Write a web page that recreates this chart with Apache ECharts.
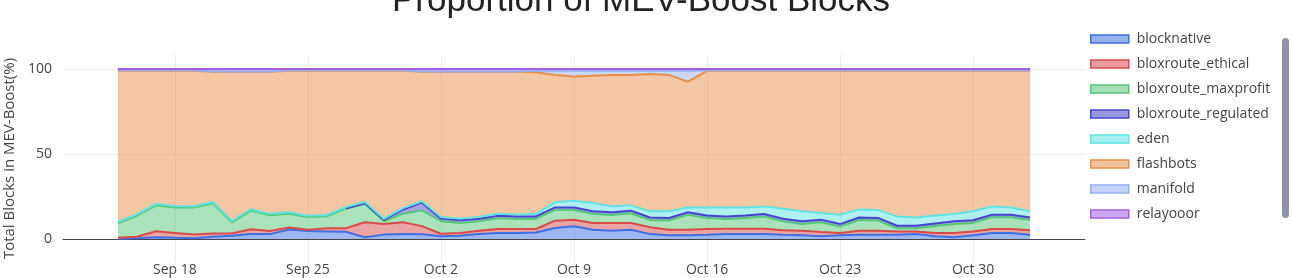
<!DOCTYPE html>
<html>
<head>
<meta charset="utf-8">
<script src="https://cdn.jsdelivr.net/npm/echarts@6/dist/echarts.min.js"></script>
<style>
html,body{margin:0;padding:0;background:#fff;}
#chart{width:1292px;height:278px;}
</style>
</head>
<body>
<div id="chart"></div>
<script>
const dates = ['2022-09-15','2022-09-16','2022-09-17','2022-09-18','2022-09-19','2022-09-20','2022-09-21','2022-09-22','2022-09-23','2022-09-24',
'2022-09-25','2022-09-26','2022-09-27','2022-09-28','2022-09-29','2022-09-30','2022-10-01','2022-10-02','2022-10-03','2022-10-04',
'2022-10-05','2022-10-06','2022-10-07','2022-10-08','2022-10-09','2022-10-10','2022-10-11','2022-10-12','2022-10-13','2022-10-14',
'2022-10-15','2022-10-16','2022-10-17','2022-10-18','2022-10-19','2022-10-20','2022-10-21','2022-10-22','2022-10-23','2022-10-24',
'2022-10-25','2022-10-26','2022-10-27','2022-10-28','2022-10-29','2022-10-30','2022-10-31','2022-11-01','2022-11-02'];

const blocknative = [0.2,0.4,1.1,0.7,0.4,1.4,2.0,2.9,2.9,5.6,4.7,4.5,4.3,1.0,2.6,2.9,2.8,1.7,2.0,2.9,3.5,3.5,3.9,6.5,7.5,5.5,4.9,5.5,2.9,2.2,2.2,2.5,2.9,2.9,2.9,2.5,2.2,1.6,2.2,2.5,2.5,2.5,2.9,1.6,1.0,2.2,3.5,3.5,2.5];
const bloxroute_ethical = [0.6,0.9,3.5,2.9,2.2,1.8,1.2,2.9,1.8,1.2,0.8,1.9,2.1,8.9,6.3,7.0,4.8,1.4,1.5,2.0,2.4,2.4,2.0,4.3,3.9,3.9,4.5,3.9,4.0,3.3,3.3,3.4,3.2,3.2,3.2,2.6,2.7,2.5,1.3,2.4,2.4,2.0,1.6,1.9,2.5,2.3,2.4,2.4,2.6];
const bloxroute_maxprofit = [8.4,12.4,15.2,15.0,15.9,17.8,6.6,10.9,9.3,8.1,7.4,7.0,11.6,10.8,1.5,5.0,9.3,7.4,6.0,5.5,6.3,5.9,5.9,6.3,5.7,5.4,4.8,5.8,4.3,5.4,8.7,6.5,5.7,6.3,7.1,5.3,4.0,5.8,3.8,6.3,6.0,1.8,1.8,4.2,5.4,5.0,6.9,6.9,6.1];
const bloxroute_regulated = [null,null,null,null,null,null,null,null,null,null,null,null,0,0.3,0.8,2.5,4.5,1.5,1.5,1.5,1.5,1.5,1.5,1.5,1.5,1.5,1.5,1.5,1.5,1.5,1.5,1.5,1.5,1.5,1.5,1.5,1.5,1.5,1.5,1.5,1.5,1.5,1.5,1.5,1.5,1.5,1.5,1.5,1.5];
const eden = [0.8,0.8,0.8,0.8,0.8,0.8,0.8,0.8,0.8,0.8,0.8,0.8,0.8,0.8,0.8,0.8,0.8,1.0,1.0,1.0,1.2,1.2,1.5,3.0,3.9,4.9,3.5,3.1,3.6,3.9,2.9,4.7,5.3,4.7,4.5,5.9,5.9,3.9,5.5,4.6,4.6,5.5,4.9,4.7,4.3,5.3,4.9,4.3,3.6];
const flashbots = [89.0,84.5,78.4,79.6,79.7,76.5,87.7,80.8,83.5,83.3,85.3,84.8,80.2,77.2,87.0,80.8,76.1,85.3,86.3,85.4,83.4,83.8,83.2,74.9,73.0,74.8,77.3,76.7,80.7,80.2,73.9,80.3,80.4,80.4,79.8,81.2,82.7,83.7,84.7,81.7,82.0,85.7,86.3,85.1,84.3,82.7,79.8,80.4,82.7];
const manifold = [0.2,0.2,0.2,0.2,0.2,0.2,0.2,0.2,0.2,0.2,0.2,0.2,0.2,0.2,0.2,0.2,0.2,0.2,0.2,0.2,0.2,0.2,1.0,2.5,3.5,3.0,2.5,2.5,2.0,2.5,6.5,0.3,0.2,0.2,0.2,0.2,0.2,0.2,0.2,0.2,0.2,0.2,0.2,0.2,0.2,0.2,0.2,0.2,0.2];
const relayooor = [0.8,0.8,0.8,0.8,0.8,1.5,1.5,1.5,1.5,0.8,0.8,0.8,0.8,0.8,0.8,0.8,1.5,1.5,1.5,1.5,1.5,1.5,1.0,1.0,1.0,1.0,1.0,1.0,1.0,1.0,1.0,0.8,0.8,0.8,0.8,0.8,0.8,0.8,0.8,0.8,0.8,0.8,0.8,0.8,0.8,0.8,0.8,0.8,0.8];

const seriesNames = ['blocknative','bloxroute_ethical','bloxroute_maxprofit','bloxroute_regulated','eden','flashbots','manifold','relayooor'];
const seriesValues = [blocknative,bloxroute_ethical,bloxroute_maxprofit,bloxroute_regulated,eden,flashbots,manifold,relayooor];
const lineColors = ['#3f6fe4','#d84a4a','#55c877','#4646cc','#5fe3e3','#e88f48','#94b0f2','#a45ee6'];

const tickDates = ['2022-09-18','2022-09-25','2022-10-02','2022-10-09','2022-10-16','2022-10-23','2022-10-30'];
const tickLabels = ['Sep 18','Sep 25','Oct 2','Oct 9','Oct 16','Oct 23','Oct 30'];
const yTicks = [0, 50, 100];

const ts = d => Date.parse(d + 'T00:00:00Z');
const DAY = 86400000;
const tickTs = tickDates.map(ts);
const xMin = ts(dates[0]) - 2.89 * DAY;
const xMax = ts(dates[dates.length - 1]) + 2.89 * DAY;
const font = '"Open Sans", "Noto Sans", sans-serif';

const chart = echarts.init(document.getElementById('chart'), null, {renderer: 'canvas', useUTC: true});

const series = seriesNames.map((name, k) => ({
  name: name,
  type: 'line',
  stack: 'total',
  xAxisIndex: 0,
  symbol: 'none',
  smooth: false,
  connectNulls: false,
  data: seriesValues[k].map((v, i) => [ts(dates[i]), v === null ? '-' : v]),
  lineStyle: {color: lineColors[k], width: 2},
  itemStyle: {color: lineColors[k]},
  areaStyle: {color: lineColors[k], opacity: 0.5},
  emphasis: {disabled: true}
}));

chart.setOption({
  animation: false,
  useUTC: true,
  backgroundColor: '#fff',
  title: {
    text: 'Proportion of MEV-Boost Blocks',
    left: 392, top: -16, padding: 0,
    textStyle: {fontFamily: '"Liberation Sans", Arial, sans-serif', fontSize: 35, fontWeight: 'normal', color: '#222'}
  },
  grid: {left: 63, right: 207, top: 55, bottom: 16, containLabel: false, outerBoundsMode: 'none'},
  legend: {
    orient: 'vertical', left: 1090, top: 32, padding: 0,
    itemWidth: 38, itemHeight: 8, itemGap: 11,
    textStyle: {fontFamily: font, fontSize: 14, color: '#444', padding: [0,0,0,3]},
    data: seriesNames.map((n, k) => ({
      name: n, icon: 'rect',
      itemStyle: {color: echarts.color.modifyAlpha(lineColors[k], 0.55), borderColor: lineColors[k], borderWidth: 1.5}
    }))
  },
  xAxis: [{
    type: 'time',
    show: false,
    position: 'top',
    min: xMin, max: xMax,
    axisLine: {onZero: false},
    splitLine: {show: false}
  }, {
    type: 'value',
    position: 'bottom',
    min: xMin, max: xMax,
    axisLine: {show: true, onZero: true, onZeroAxisIndex: 0, lineStyle: {color: '#444', width: 1}},
    axisTick: {show: false, customValues: tickTs},
    axisLabel: {
      show: true,
      customValues: tickTs, margin: 1,
      showMinLabel: true, showMaxLabel: true, hideOverlap: false,
      fontFamily: font, fontSize: 14, color: '#444',
      formatter: v => {
        const i = tickTs.findIndex(t => Math.abs(t - Number(v)) < DAY / 2);
        return i >= 0 ? tickLabels[i] : '';
      }
    },
    splitLine: {show: true, lineStyle: {color: '#ececec', width: 1}}
  }],
  yAxis: {
    type: 'value',
    min: -13.5, max: 108.2,
    name: 'Total Blocks in MEV-Boost(%)',
    nameLocation: 'middle', nameGap: 44,
    nameTextStyle: {fontFamily: font, fontSize: 15, color: '#444'},
    axisLine: {show: false, onZero: false},
    axisTick: {show: false, customValues: yTicks},
    axisLabel: {customValues: yTicks, margin: 11, fontFamily: font, fontSize: 14, color: '#444'},
    splitLine: {show: true, lineStyle: {color: '#ececec', width: 1}}
  },
  graphic: [{
    type: 'rect', left: 1282, top: 38,
    shape: {width: 7, height: 180, r: 3.5},
    style: {fill: '#8e93a8'}
  }],
  series: series
});
</script>
</body>
</html>
